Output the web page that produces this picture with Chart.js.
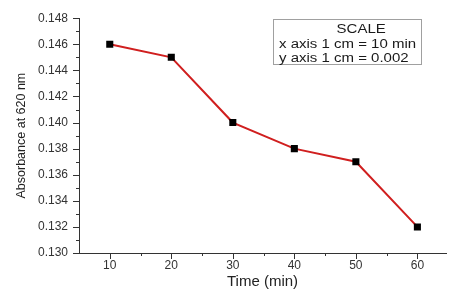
<!DOCTYPE html>
<html>
<head>
<meta charset="utf-8">
<script src="https://cdn.jsdelivr.net/npm/chart.js@4.4.1/dist/chart.umd.min.js"></script>
<style>
  html, body { margin: 0; padding: 0; background: #fff; }
  #wrap { position: relative; width: 451px; height: 291px; }
  #scaleBox {
    position: absolute; left: 273px; top: 19px; width: 147px; height: 44px;
    border: 1px solid #a0a0a0; box-sizing: content-box;
    font-family: "Liberation Sans", Arial, sans-serif; font-size: 12.5px; color: #1a1a1a;
    line-height: 14.5px; white-space: nowrap;
  }
  #scaleBox .inner { position: absolute; left: 5px; top: 2px; transform: scaleX(1.2); transform-origin: 0 0; }
  #scaleBox .head { padding-left: 48px; }
</style>
</head>
<body>
<div id="wrap">
  <canvas id="chart" width="451" height="291"></canvas>
  <div id="scaleBox">
    <div class="inner">
      <div class="head">SCALE</div>
      <div>x axis 1 cm = 10 min</div>
      <div>y axis 1 cm = 0.002</div>
    </div>
  </div>
</div>
<script>
// data
const times = [10, 20, 30, 40, 50, 60];
const absorbance = [0.146, 0.145, 0.140, 0.138, 0.137, 0.132];

// tick labels (majors), minors go halfway between
const xTickLabels = [10, 20, 30, 40, 50, 60];
const yTickLabels = [0.130, 0.132, 0.134, 0.136, 0.138, 0.140, 0.142, 0.144, 0.146, 0.148];
const xMinorTicks = [15, 25, 35, 45, 55];
const yMinorTicks = [0.131, 0.133, 0.135, 0.137, 0.139, 0.141, 0.143, 0.145, 0.147];

const axisColor = '#333';
const FONT = '"Liberation Sans", Arial, sans-serif';

// outward tick marks, long for majors, short for minors
const tickMarks = {
  id: 'tickMarks',
  afterDraw(chart){
    const ctx = chart.ctx;
    const x = chart.scales.x, y = chart.scales.y;
    const bottom = chart.chartArea.bottom, left = chart.chartArea.left;
    ctx.save();
    ctx.strokeStyle = axisColor;
    ctx.lineWidth = 1;
    ctx.beginPath();
    xTickLabels.forEach(v => { const px = Math.round(x.getPixelForValue(v)) + 0.5; ctx.moveTo(px, bottom); ctx.lineTo(px, bottom + 6); });
    xMinorTicks.forEach(v => { const px = Math.round(x.getPixelForValue(v)) + 0.5; ctx.moveTo(px, bottom); ctx.lineTo(px, bottom + 3); });
    yTickLabels.forEach(v => { const py = Math.round(y.getPixelForValue(v)) + 0.5; ctx.moveTo(left, py); ctx.lineTo(left - 6, py); });
    yMinorTicks.forEach(v => { const py = Math.round(y.getPixelForValue(v)) + 0.5; ctx.moveTo(left, py); ctx.lineTo(left - 3, py); });
    ctx.stroke();
    ctx.restore();
  }
};

new Chart(document.getElementById('chart'), {
  type: 'line',
  data: {
    datasets: [{
      data: times.map((t, i) => ({x: t, y: absorbance[i]})),
      borderColor: '#d01f1f',
      borderWidth: 2,
      pointStyle: 'rect',
      pointRadius: 5,
      pointBackgroundColor: '#000',
      pointBorderColor: '#000',
      pointBorderWidth: 0,
      tension: 0
    }]
  },
  options: {
    responsive: false,
    animation: false,
    layout: {padding: {top: 17, right: 0, bottom: 0, left: 0}},
    plugins: {legend: {display: false}, tooltip: {enabled: false}},
    scales: {
      x: {
        type: 'linear', min: 5, max: 64.65,
        afterBuildTicks: s => { s.ticks = xTickLabels.map(v => ({value: v})); },
        afterFit: s => { s.height = 38; },
        grid: {display: false, drawTicks: false},
        border: {display: true, color: axisColor, width: 1},
        ticks: {padding: 5, color: '#333', font: {family: FONT, size: 12}, maxRotation: 0},
        title: {display: true, text: 'Time (min)', color: '#222', font: {family: FONT, size: 15}, padding: {top: 0, bottom: 0}}
      },
      y: {
        min: 0.130, max: 0.148,
        afterBuildTicks: s => { s.ticks = yTickLabels.map(v => ({value: v})); },
        afterFit: s => { s.width = 79; },
        grid: {display: false, drawTicks: false},
        border: {display: true, color: axisColor, width: 1},
        ticks: {padding: 11, color: '#333', font: {family: FONT, size: 12}, callback: v => v.toFixed(3)},
        title: {display: true, text: 'Absorbance at 620 nm', color: '#222', font: {family: FONT, size: 12.5}, padding: {top: 14, bottom: 0}}
      }
    }
  },
  plugins: [tickMarks]
});
</script>
</body>
</html>
